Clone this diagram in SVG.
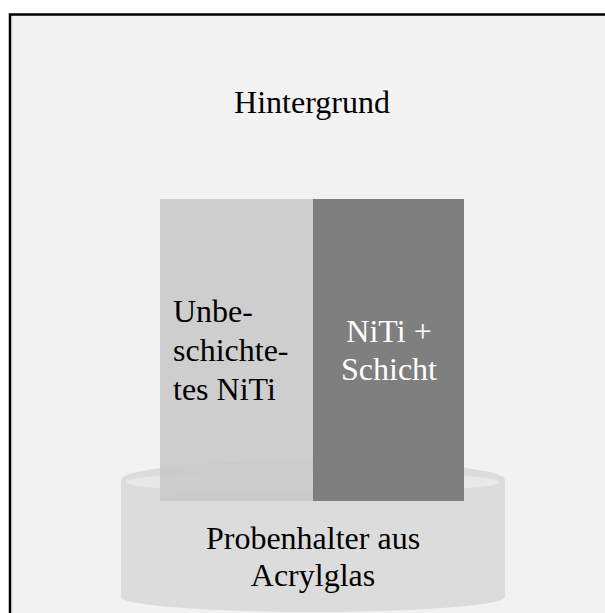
<svg xmlns="http://www.w3.org/2000/svg" width="605" height="613" viewBox="0 0 605 613">
<style>
.t{font-family:"Liberation Serif","Times New Roman",serif;font-size:32px;fill:#000}
.w{fill:#fff}
.c{text-anchor:middle}
</style>
<rect x="0" y="0" width="605" height="613" fill="#ffffff"/>
<g id="hintergrund">
<rect x="10" y="14.5" width="700" height="700" fill="#f2f2f2" stroke="#000" stroke-width="2.5"/>
<text class="t c" x="312" y="113">Hintergrund</text>
</g>
<g id="probenhalter">
<rect x="121" y="480" width="384" height="117" fill="#dcdcdc"/>
<ellipse cx="313" cy="597" rx="192" ry="15" fill="#dcdcdc"/>
<ellipse cx="313" cy="480" rx="192" ry="20" fill="#dcdcdc"/>
<ellipse cx="313" cy="482" rx="187" ry="11" fill="#e8e8e8"/>
</g>
<g id="unbeschichtet">
<rect x="160" y="199" width="153" height="302" fill="#c8c8c8" fill-opacity="0.85"/>
<text class="t" x="173" y="322">Unbe-</text>
<text class="t" x="173" y="361">schichte-</text>
<text class="t" x="173" y="400">tes NiTi</text>
</g>
<g id="beschichtet">
<rect x="313" y="199" width="151" height="302" fill="#7f7f7f"/>
<text class="t w c" x="389" y="342">NiTi +</text>
<text class="t w c" x="389" y="380">Schicht</text>
</g>
<g id="probenhalter-label">
<text class="t c" x="313" y="549">Probenhalter aus</text>
<text class="t c" x="313" y="586">Acrylglas</text>
</g>
<g id="connectors"/>
</svg>
